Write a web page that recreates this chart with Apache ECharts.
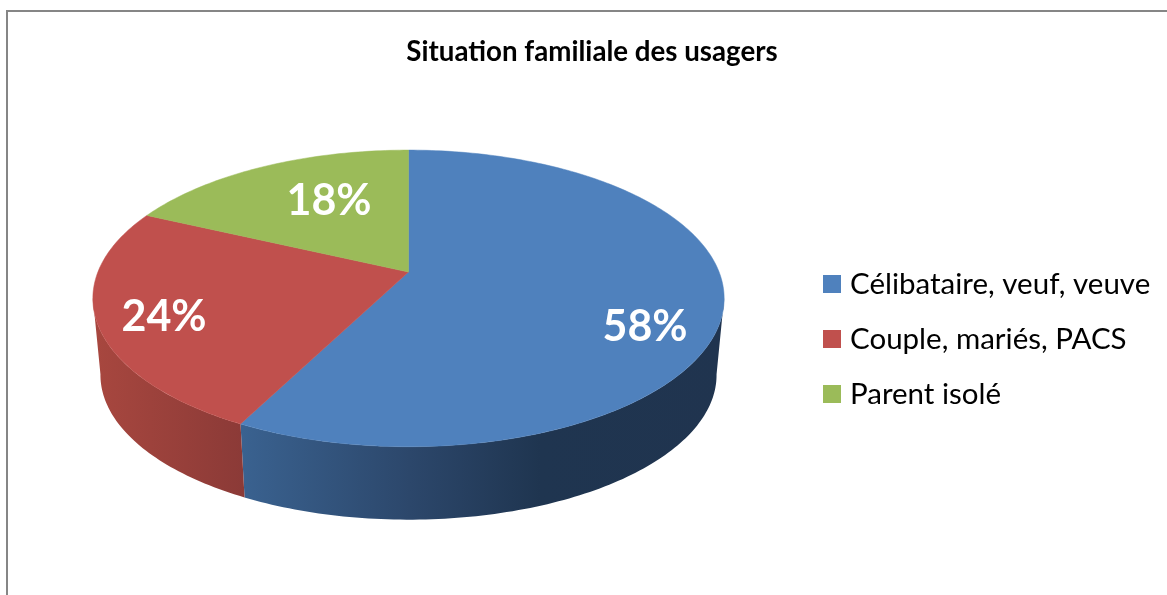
<!DOCTYPE html>
<html>
<head>
<meta charset="utf-8">
<style>
  html,body{margin:0;padding:0;background:#fff;}
  #chart{width:1167px;height:595px;}
</style>
<script src="https://cdn.jsdelivr.net/npm/echarts@6/dist/echarts.min.js"></script>
</head>
<body>
<div id="chart"></div>
<script>
  var categories=["Célibataire, veuf, veuve","Couple, mariés, PACS","Parent isolé"];
  // 读图估计的份额
  var shares=[57.52,24.44,18.04];

  var topColors=["#4f81bd","#c0504d","#9bbb59"];
  var wallStops=[
    [[0,"#3a6290"],[0.35,"#2c476b"],[0.62,"#1f3550"],[1,"#20344f"]],
    [[0,"#a8473f"],[1,"#8b3a37"]],
    null
  ];
  var labelPos=[[645,327],[164,317],[329,201]];

  // 透视投影参数
  var cx=408.5,apexY=272,persp=0.178,scaleX=310.6,scaleY=95.2;
  var rimCy=298.5,lowerCy=375,lowerScale=0.976;
  // 侧面只画看得见的一段,左右两端是轮廓切点
  var wallFrom=100,wallTo=260;

  var total=shares.reduce(function(a,b){return a+b},0);

  function rim(deg){
    var t=deg*Math.PI/180;
    var x=Math.sin(t),y=Math.cos(t),w=1+persp*y;
    return [cx+scaleX*x/w,(apexY-scaleY*y)/w];
  }
  function lowerRim(deg){
    var p=rim(deg);
    return [cx+(p[0]-cx)*lowerScale,lowerCy+(p[1]-rimCy)*lowerScale];
  }
  function arc(fn,from,to){
    var pts=[];
    var n=Math.max(1,Math.ceil(Math.abs(to-from)));
    for(var i=0;i<=n;i++){
      pts.push(fn(from+(to-from)*i/n));
    }
    return pts;
  }

  var makeRender=function(index){
    return function(params,api){
      var start=api.value(0)/total*360;
      var end=api.value(1)/total*360;
      var children=[];
      var a=Math.max(start,wallFrom),b=Math.min(end,wallTo);
      if(wallStops[index]&&b>a){
        var wallPts=arc(rim,a,b).concat(arc(lowerRim,b,a));
        var xs=wallPts.map(function(p){return p[0]});
        var x0=Math.min.apply(null,xs),x1=Math.max.apply(null,xs);
        var fill=new echarts.graphic.LinearGradient(x0,0,x1,0,wallStops[index].map(function(s){
          return {offset:s[0],color:s[1]};
        }),true);
        children.push({type:"polygon",shape:{points:wallPts},style:{fill:fill}});
      }
      var topPts=[[cx,apexY]].concat(arc(rim,start,end));
      children.push({
        type:"polygon",
        shape:{points:topPts},
        z2:5,
        style:{fill:topColors[index],stroke:topColors[index],lineWidth:0.5}
      });
      children.push({
        type:"text",
        z2:10,
        style:{
          x:labelPos[index][0],
          y:labelPos[index][1],
          text:Math.round((api.value(1)-api.value(0))/total*100)+"%",
          fill:"#fff",
          font:"bold 43px Lato",
          align:"center",
          verticalAlign:"middle"
        }
      });
      return {type:"group",children:children};
    };
  };

  var seriesList=[];
  var acc=0;
  categories.forEach(function(name,i){
    seriesList.push({
      type:"custom",
      name:name,
      coordinateSystem:"none",
      silent:true,
      itemStyle:{color:topColors[i]},
      data:[[acc,acc+shares[i]]],
      renderItem:makeRender(i)
    });
    acc+=shares[i];
  });

  var chart=echarts.init(document.getElementById("chart"),null,{renderer:"canvas"});
  chart.setOption({
    animation:false,
    backgroundColor:"#fff",
    title:{
      text:"Situation familiale des usagers",
      left:587,
      top:33,
      textAlign:"center",
      textStyle:{fontFamily:"Lato",fontWeight:"bold",fontSize:27.7,color:"#000"}
    },
    legend:{
      orient:"vertical",
      left:818,
      top:264,
      icon:"rect",
      itemWidth:18,
      itemHeight:18,
      itemGap:25,
      data:categories,
      textStyle:{fontFamily:"Lato",fontSize:29.5,color:"#000",padding:[0,0,0,4]}
    },
    graphic:[{
      type:"polyline",
      silent:true,
      shape:{points:[[7,595],[7,11],[1167,11]]},
      style:{stroke:"#868686",lineWidth:2,fill:null}
    }],
    series:seriesList
  });
</script>
</body>
</html>
